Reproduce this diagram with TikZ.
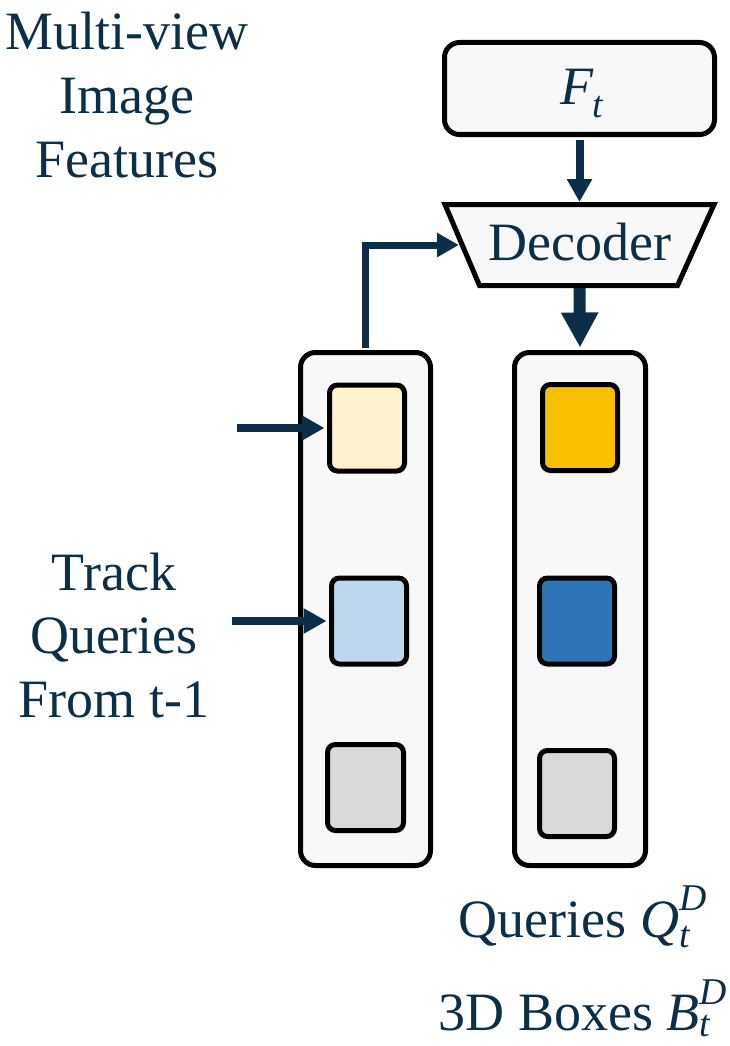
\documentclass[tikz,border=0pt]{standalone}
\usepackage{amsmath}
\usepackage{fontspec}
\setmainfont{Liberation Serif}
\usetikzlibrary{arrows.meta}
\definecolor{navy}{HTML}{0B2F48}
\definecolor{boxfill}{HTML}{F8F8F8}
\definecolor{qyellow}{HTML}{FFF2CC}
\definecolor{qlblue}{HTML}{BDD7EE}
\definecolor{qgray}{HTML}{D9D9D9}
\definecolor{qgold}{HTML}{F9C000}
\definecolor{qblue}{HTML}{2E75B6}
\tikzset{
  boxline/.style={draw=black, line width=5pt, fill=boxfill, inner sep=0pt},
  colbox/.style={boxline, rounded corners=15pt, minimum width=130pt, minimum height=513pt},
  qbox/.style={draw=black, line width=5pt, rounded corners=8pt, inner sep=0pt, minimum width=75pt, minimum height=86pt},
  lbl/.style={text=navy, font=\fontsize{54}{63.5}\selectfont, inner sep=0pt},
  thinarrow/.style={draw=navy, line width=8pt, -{Triangle[length=23pt,width=24pt]}},
  midarrow/.style={draw=navy, line width=7pt, -{Triangle[length=22pt,width=23pt]}},
  fatarrow/.style={draw=navy, line width=12pt, -{Triangle[length=35pt,width=35pt]}},
}
\begin{document}
\begin{tikzpicture}[x=1pt,y=-1pt]
\useasboundingbox (0,0) rectangle (730,1046);
% top box and decoder
\node[boxline, rounded corners=15pt, minimum width=270pt, minimum height=92pt] (Ft) at (579.5,88.5) {};
\node[lbl, anchor=base] (Ftl) at (582,105) {$\textit{F}_{\textit{t}}$};
\draw[boxline, line join=miter] (445,204.5) -- (714,204.5) -- (677.5,285.5) -- (479.5,285.5) -- cycle;
\node[lbl, anchor=base] (dec) at (580,260) {Decoder};
\coordinate (dectop) at (579.5,202);
\coordinate (decbot) at (579.5,288);
\coordinate (decleft) at (459,245);
% columns
\node[colbox] (col1) at (365.5,609) {};
\node[colbox, minimum width=131pt] (col2) at (580,609) {};
% query squares
\node[qbox, fill=qyellow] (q11) at (367,428) {};
\node[qbox, fill=qlblue]  (q12) at (369,621) {};
\node[qbox, fill=qgray, minimum width=76pt]   (q13) at (365.5,787.5) {};
\node[qbox, fill=qgold]   (q21) at (580,427.5) {};
\node[qbox, fill=qblue]   (q22) at (577,621) {};
\node[qbox, fill=qgray]   (q23) at (577,793.5) {};
% connectors
\draw[thinarrow] ([yshift=-2.5pt]Ft.south) -- (dectop);
\draw[fatarrow] (decbot) -- ([yshift=2.5pt]col2.north);
\draw[midarrow] ([yshift=2.5pt]col1.north) |- (decleft);
\coordinate (t1) at (237,428);
\coordinate (t2) at (232,621);
\draw[thinarrow, shorten >=2.5pt] (t1) -- (q11.west);
\draw[thinarrow, shorten >=2.5pt] (t2) -- (q12.west);
% labels
\node[lbl, anchor=base, align=center] (mvif) at (127,177) {Multi-view\\Image\\Features};
\node[lbl, anchor=base, align=center] (tq) at (114,717) {Track\\Queries\\From t-1};
\node[lbl, anchor=base] (qout) at (583,937) {Queries $\textit{Q}_{\textit{t}}^{\textit{D}}$};
\node[lbl, anchor=base] (bout) at (583,1030) {3D Boxes $\textit{B}_{\textit{t}}^{\textit{D}}$};
\end{tikzpicture}
\end{document}
